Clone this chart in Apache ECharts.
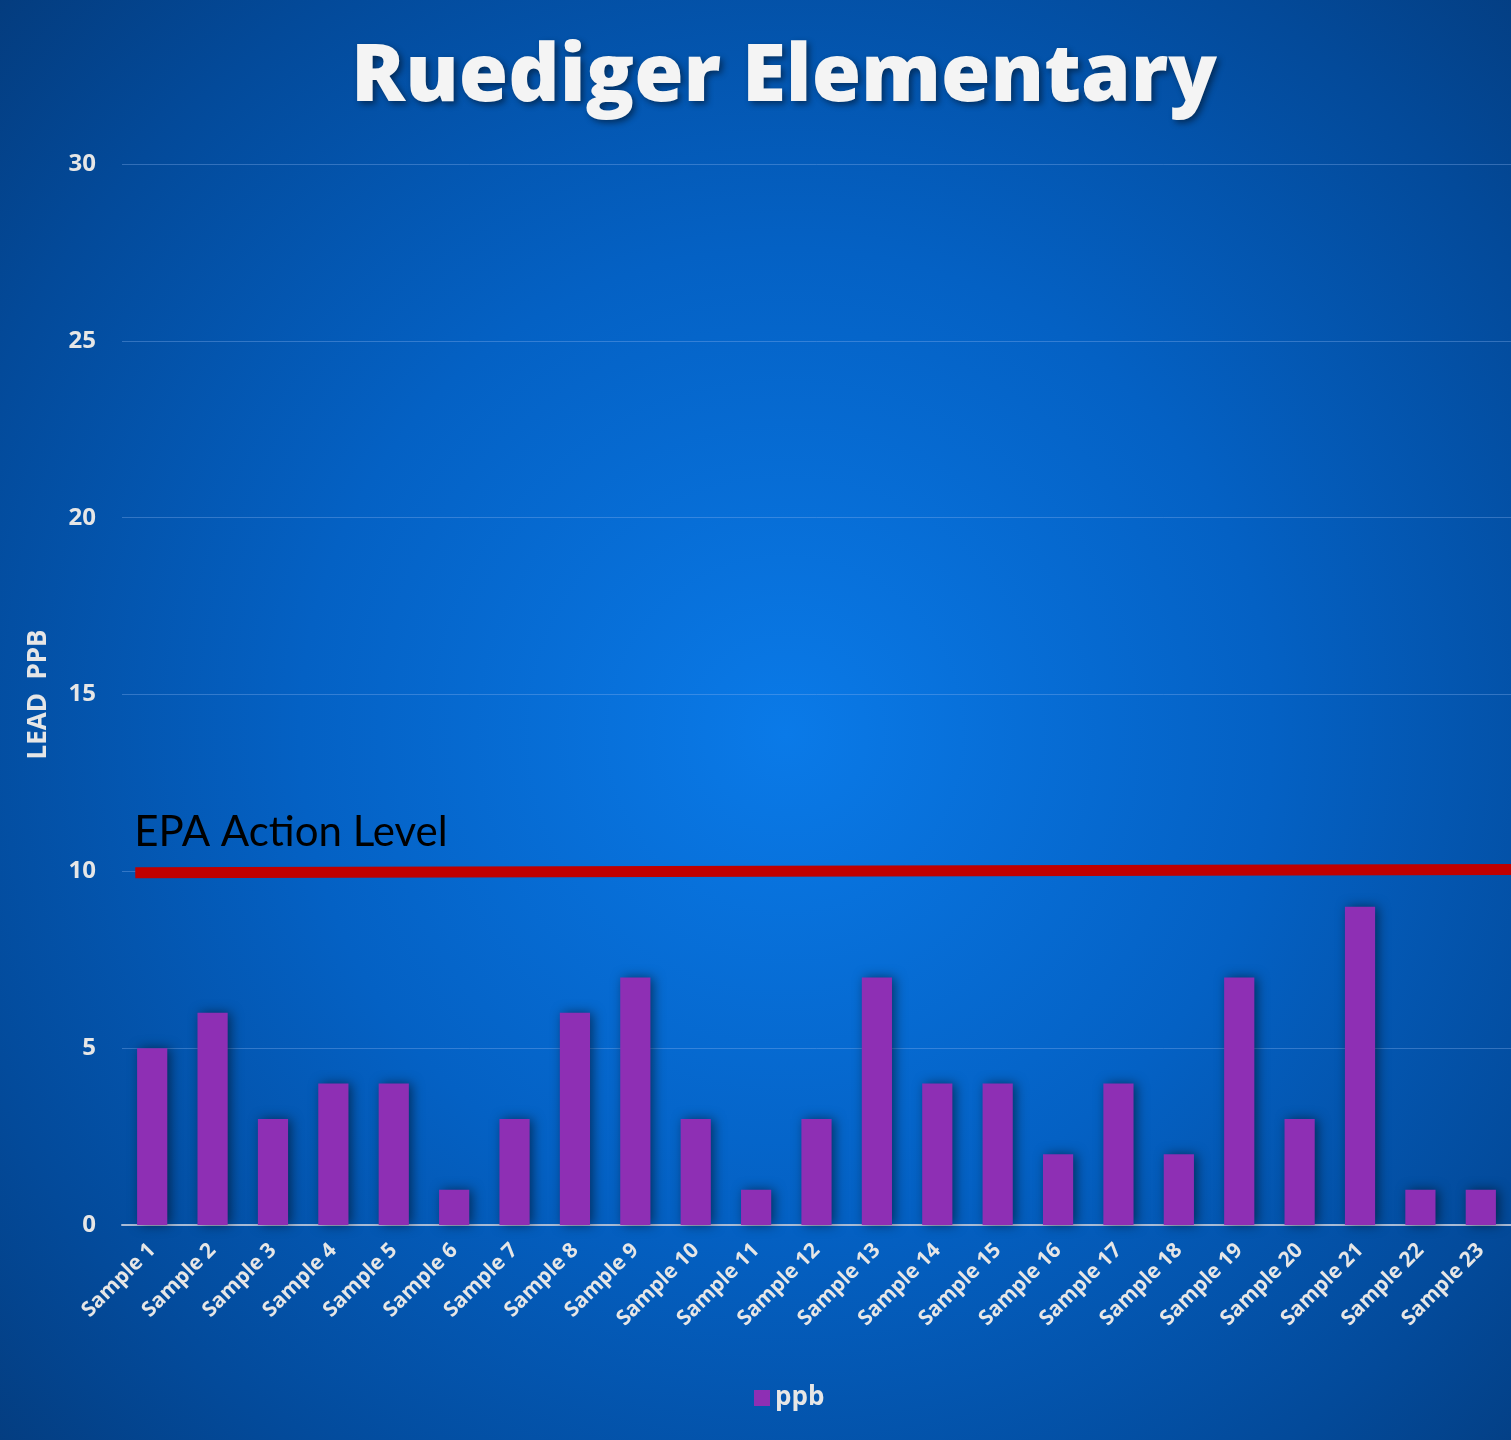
<!DOCTYPE html>
<html><head><meta charset="utf-8">
<script src="https://cdn.jsdelivr.net/npm/echarts@6/dist/echarts.min.js"></script>
<style>html,body{margin:0;padding:0;background:#04418a;}#c{width:1511px;height:1440px;}</style>
</head><body><div id="c"></div>
<script>
const categories = ["Sample 1","Sample 2","Sample 3","Sample 4","Sample 5","Sample 6","Sample 7","Sample 8","Sample 9","Sample 10","Sample 11","Sample 12","Sample 13","Sample 14","Sample 15","Sample 16","Sample 17","Sample 18","Sample 19","Sample 20","Sample 21","Sample 22","Sample 23"];
const ppb = [5,6,3,4,4,1,3,6,7,3,1,3,7,4,4,2,4,2,7,3,9,1,1];
const actionLevel = [[-0.28, 9.96], [22.55, 10.05]];
const yTicks = {min: 0, max: 30, interval: 5};

const chart = echarts.init(document.getElementById('c'), null, {renderer: 'canvas'});
const font = '"Open Sans", Lato, sans-serif';
chart.setOption({
  backgroundColor: {
    type: 'radial', x: 0.52, y: 0.51, r: 0.75,
    colorStops: [
      {offset: 0, color: '#0a7ae8'},
      {offset: 0.45, color: '#0461c4'},
      {offset: 0.8, color: '#034a9a'},
      {offset: 1, color: '#043c7e'}
    ]
  },
  title: {
    text: 'Ruediger Elementary', left: 346, top: 33,
    textStyle: {
      color: '#f4f4f4', fontFamily: font, fontWeight: 800, fontSize: 80,
      textShadowColor: 'rgba(0,0,0,0.45)', textShadowBlur: 6, textShadowOffsetX: 3, textShadowOffsetY: 3
    }
  },
  legend: {
    bottom: 24, left: 749, itemWidth: 16, itemHeight: 16, itemGap: 8,
    icon: 'rect',
    textStyle: {color: '#e6e6e6', fontFamily: font, fontWeight: 'bold', fontSize: 26},
    data: ['ppb']
  },
  grid: {left: 122, right: -3, top: 164, bottom: 215, containLabel: false},
  xAxis: [{
    type: 'category', data: categories,
    axisLine: {lineStyle: {color: '#a9bbd6', width: 2}},
    axisTick: {show: false},
    axisLabel: {rotate: 45, color: '#e6e6e6', fontFamily: font, fontWeight: 'bold', fontSize: 21, margin: 22, interval: 0}
  }, {
    type: 'value', min: -0.5, max: 22.5, show: false
  }],
  yAxis: {
    type: 'value', min: yTicks.min, max: yTicks.max, interval: yTicks.interval,
    name: 'LEAD  PPB', nameLocation: 'middle', nameGap: 70, nameRotate: 90,
    nameTextStyle: {color: '#e6e6e6', fontFamily: font, fontWeight: 'bold', fontSize: 26},
    axisLine: {show: false}, axisTick: {show: false},
    axisLabel: {color: '#e6e6e6', fontFamily: font, fontWeight: 'bold', fontSize: 24, margin: 26},
    splitLine: {lineStyle: {color: 'rgba(140,180,240,0.35)', width: 1}}
  },
  series: [{
    name: 'ppb', type: 'bar', data: ppb, barWidth: '50%',
    itemStyle: {color: '#8e2fb4', shadowColor: 'rgba(0,0,0,0.5)', shadowBlur: 12, shadowOffsetX: 3, shadowOffsetY: 0},
    z: 2
  }, {
    name: 'EPA', type: 'line', xAxisIndex: 1, data: actionLevel,
    symbol: 'none', clip: false, silent: true,
    lineStyle: {color: '#c00000', width: 11, cap: 'butt'},
    markPoint: {
      symbol: 'rect', symbolSize: 0,
      data: [{coord: actionLevel[0], value: 'EPA Action Level'}],
      label: {show: true, position: 'insideBottomLeft', formatter: 'EPA Action Level', offset: [-6, -14],
        color: '#000', fontFamily: 'Lato, sans-serif', fontSize: 42, align: 'left'}
    },
    z: 3
  }]
});
</script></body></html>
